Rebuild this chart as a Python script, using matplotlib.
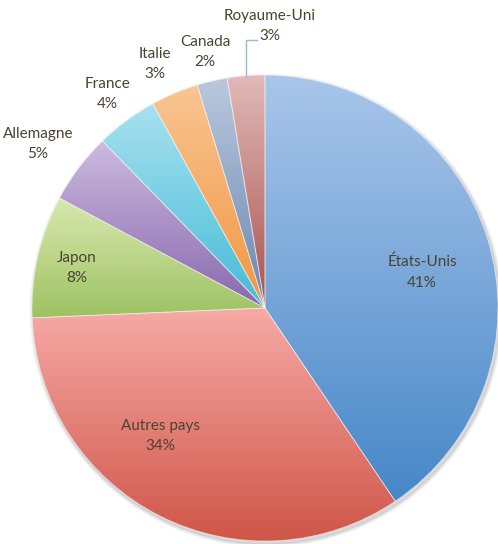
import numpy as np
import matplotlib
matplotlib.use("Agg")
import matplotlib.pyplot as plt
from matplotlib.colors import LinearSegmentedColormap

plt.rcParams['font.family'] = ['Lato', 'DejaVu Sans']

# data
countries = ["États-Unis", "Autres pays", "Japon", "Allemagne", "France",
             "Italie", "Canada", "Royaume-Uni"]
shares = [40.6, 33.8, 8.5, 4.9, 4.3, 3.3, 2.1, 2.6]   # slice sizes as drawn
pct_labels = [41, 34, 8, 5, 4, 3, 2, 3]                # percentages printed

# colours: (top, bottom) of each slice gradient
tops = ["#a9c6ea", "#f7aaa7", "#d8e8ae", "#ccbadf", "#a9e1ef", "#f9c592", "#bac8dd", "#e1bab9"]
bottoms = ["#4787c8", "#cf5547", "#9dc262", "#8868ad", "#43bcd7", "#f29640", "#6a87b0", "#a9524e"]

# label placement in figure pixels (x, y from top)
label_pos = [(422, 272), (160, 436), (77, 268), (38, 144), (107, 94),
             (155, 64), (205, 52), (270, 26)]

W, H = 498, 544
cx, cy, R = 265, 544 - 308, 233

fig = plt.figure(figsize=(W / 100, H / 100), dpi=100)
ax = fig.add_axes([0, 0, 1, 1])

# soft shadow
for i, a in enumerate([0.06, 0.04, 0.03, 0.02]):
    sh = plt.Circle((cx + 1.5, cy - 2.5), R + 0.5 + i, color='#000000', alpha=a, zorder=0)
    ax.add_patch(sh)

wedges, _ = ax.pie(shares, startangle=90, counterclock=False,
                   center=(cx, cy), radius=R, frame=True,
                   wedgeprops=dict(linewidth=0.6, edgecolor=(1, 1, 1, 0.5)))

grad = np.linspace(0, 1, 256).reshape(-1, 1)
for w, top, bot in zip(wedges, tops, bottoms):
    verts = w.get_path().vertices
    x0, x1 = verts[:, 0].min(), verts[:, 0].max()
    y0, y1 = verts[:, 1].min(), verts[:, 1].max()
    cmap = LinearSegmentedColormap.from_list("g", [bot, top])
    im = ax.imshow(grad, cmap=cmap, extent=(x0, x1, y0, y1), origin='lower',
                   aspect='auto', zorder=1)
    im.set_clip_path(w)
    w.set_facecolor('none')
    w.set_zorder(2)

ax.set_xlim(0, W)
ax.set_ylim(0, H)
ax.set_aspect('equal')
ax.axis('off')

txt_color = "#4a4330"
for name, v, (lx, ly) in zip(countries, pct_labels, label_pos):
    ax.text(lx, H - ly, f"{name}\n{v}%", ha='center', va='center',
            fontsize=11, color=txt_color, linespacing=1.6, zorder=5)

# leader line for Royaume-Uni
ax.plot([246, 246, 257], [H - 77, H - 40, H - 40], color="#9fb7d6", lw=1, zorder=4)

fig.savefig("out.png", dpi=100)
